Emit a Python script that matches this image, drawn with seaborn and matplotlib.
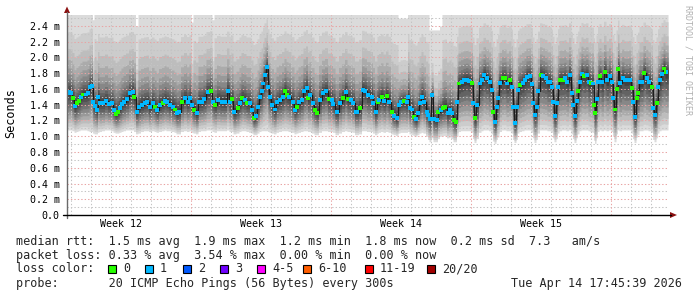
import numpy as np
import matplotlib
matplotlib.use("Agg")
import matplotlib.pyplot as plt
import matplotlib.transforms as mtransforms
from matplotlib.patches import Polygon, Rectangle
from matplotlib.lines import Line2D
import seaborn as sns

# ---------------- data ----------------
# time in graph steps of 72 minutes (20 steps = 1 day) from the left edge
time_steps = [
    0, 2, 4, 6, 8, 10, 12, 14, 16, 19,
    21, 23, 25, 26, 28, 30, 31, 33, 36, 39,
    42, 45, 47, 49, 51, 53, 55, 57, 60, 63,
    66, 67, 70, 72, 75, 78, 80, 83, 86, 88,
    90, 93, 96, 98, 100, 103, 106, 108, 110, 112,
    115, 118, 121, 123, 125, 127, 130, 132, 135, 137,
    141, 144, 146, 148, 151, 155, 158, 161, 163, 165,
    167, 171, 173, 175, 178, 180, 183, 185, 187, 189,
    191, 193, 195, 196, 198, 200, 201, 203, 205, 208,
    210, 213, 216, 218, 220, 222, 226, 228, 230, 232,
    235, 237, 240, 241, 243, 246, 248, 250, 253, 256,
    259, 262, 265, 266, 270, 273, 276, 279, 281, 284,
    286, 289, 290, 293, 296, 298, 301, 305, 306, 309,
    311, 312, 315, 317, 320, 322, 325, 327, 330, 332,
    334, 337, 340, 341, 343, 345, 347, 349, 351, 353,
    355, 357, 360, 361, 363, 365, 367, 370, 371, 374,
    376, 378, 381, 383, 385, 387, 389, 390, 392, 395,
    397, 400, 402, 405, 406, 408, 410, 413, 415, 417,
    420, 423, 425, 426, 428, 430, 431, 433, 436, 438,
    440, 443, 445, 446, 448, 450, 451, 453, 456, 458,
    460, 463, 465, 466, 468, 470, 471, 474, 476, 479,
    481, 483, 485, 486, 488, 490, 491, 493, 496, 498,
    500, 503, 505, 506, 508, 510, 511, 513, 515, 517,
    520, 522, 524, 526, 527, 528, 530, 531, 533, 535,
    538, 540, 543, 545, 546, 548, 550, 551, 553, 556,
    558, 560, 563, 565, 566, 568, 570, 571, 573, 575,
    577, 580, 582, 585, 586, 588, 590, 591, 593, 595,
    597, 599, 601,
]

# median round trip time (milliseconds)
median_rtt = [
    1.55, 1.56, 1.55, 1.48, 1.38, 1.42, 1.45, 1.50, 1.53, 1.53,
    1.55, 1.63, 1.64, 1.44, 1.38, 1.33, 1.50, 1.42, 1.42, 1.45,
    1.41, 1.42, 1.33, 1.28, 1.31, 1.36, 1.41, 1.44, 1.47, 1.545,
    1.56, 1.50, 1.31, 1.37, 1.40, 1.42, 1.43, 1.37, 1.42, 1.37,
    1.33, 1.40, 1.42, 1.45, 1.43, 1.40, 1.375, 1.34, 1.29, 1.31,
    1.43, 1.48, 1.43, 1.48, 1.40, 1.333, 1.29, 1.44, 1.44, 1.47,
    1.56, 1.58, 1.44, 1.40, 1.46, 1.44, 1.44, 1.57, 1.44, 1.47,
    1.31, 1.355, 1.42, 1.48, 1.46, 1.42, 1.42, 1.333, 1.23, 1.26,
    1.375, 1.50, 1.57, 1.67, 1.78, 1.88, 1.63, 1.50, 1.40, 1.34,
    1.43, 1.46, 1.50, 1.575, 1.52, 1.50, 1.43, 1.333, 1.375, 1.43,
    1.46, 1.57, 1.61, 1.49, 1.52, 1.42, 1.333, 1.30, 1.46, 1.545,
    1.575, 1.47, 1.46, 1.41, 1.31, 1.42, 1.48, 1.56, 1.47, 1.46,
    1.42, 1.31, 1.31, 1.355, 1.59, 1.57, 1.52, 1.50, 1.42, 1.31,
    1.44, 1.46, 1.50, 1.45, 1.51, 1.44, 1.31, 1.257, 1.23, 1.40,
    1.44, 1.45, 1.43, 1.50, 1.355, 1.34, 1.25, 1.215, 1.29, 1.42,
    1.50, 1.43, 1.31, 1.27, 1.215, 1.52, 1.215, 1.206, 1.31, 1.33,
    1.355, 1.37, 1.29, 1.33, 1.29, 1.206, 1.185, 1.44, 1.67, 1.69,
    1.71, 1.72, 1.70, 1.68, 1.42, 1.23, 1.40, 1.67, 1.71, 1.78,
    1.74, 1.69, 1.59, 1.31, 1.185, 1.375, 1.48, 1.68, 1.735, 1.74,
    1.67, 1.71, 1.62, 1.375, 1.17, 1.375, 1.59, 1.65, 1.68, 1.71,
    1.756, 1.76, 1.66, 1.42, 1.27, 1.375, 1.57, 1.78, 1.76, 1.74,
    1.69, 1.69, 1.62, 1.44, 1.257, 1.42, 1.63, 1.72, 1.72, 1.735,
    1.69, 1.78, 1.545, 1.40, 1.257, 1.45, 1.57, 1.69, 1.79, 1.76,
    1.78, 1.69, 1.68, 1.67, 1.40, 1.30, 1.47, 1.69, 1.76, 1.69,
    1.82, 1.71, 1.76, 1.69, 1.48, 1.34, 1.60, 1.85, 1.68, 1.74,
    1.71, 1.71, 1.72, 1.61, 1.43, 1.25, 1.48, 1.545, 1.69, 1.69,
    1.80, 1.735, 1.69, 1.63, 1.355, 1.27, 1.42, 1.63, 1.71, 1.79,
    1.86, 1.81, 1.81,
]

# lost pings per sample (drives the median colour)
lost_pings = [
    1, 1, 1, 0, 1, 0, 0, 1, 0, 1,
    1, 1, 1, 1, 1, 1, 1, 1, 1, 1,
    1, 1, 1, 0, 0, 1, 1, 1, 1, 1,
    1, 0, 1, 1, 1, 1, 1, 1, 1, 0,
    1, 1, 0, 1, 1, 1, 1, 0, 1, 1,
    0, 1, 1, 1, 1, 0, 1, 1, 1, 1,
    1, 0, 1, 0, 1, 1, 1, 1, 1, 0,
    1, 0, 1, 0, 1, 0, 1, 1, 0, 1,
    1, 1, 1, 1, 1, 1, 1, 1, 1, 1,
    1, 1, 1, 0, 0, 1, 1, 1, 0, 1,
    1, 1, 1, 0, 1, 1, 0, 0, 1, 1,
    1, 0, 1, 1, 1, 1, 0, 1, 0, 1,
    1, 1, 1, 0, 1, 1, 1, 1, 1, 1,
    0, 1, 0, 1, 0, 1, 0, 1, 1, 1,
    1, 0, 1, 1, 1, 1, 0, 1, 1, 1,
    1, 1, 1, 1, 1, 1, 1, 1, 0, 1,
    0, 0, 1, 1, 1, 0, 0, 1, 0, 1,
    1, 1, 1, 0, 1, 0, 1, 1, 1, 1,
    1, 1, 1, 0, 1, 1, 1, 1, 0, 0,
    1, 0, 1, 1, 1, 1, 1, 0, 1, 1,
    1, 1, 1, 1, 1, 1, 1, 0, 1, 1,
    1, 1, 1, 1, 1, 1, 1, 0, 0, 1,
    1, 1, 1, 1, 1, 1, 0, 1, 1, 0,
    1, 1, 0, 1, 0, 0, 1, 1, 0, 1,
    0, 1, 1, 1, 1, 0, 0, 0, 1, 1,
    1, 1, 1, 0, 1, 1, 0, 0, 1, 1,
    0, 1, 1, 0, 1, 1, 0, 1, 1, 1,
    0, 0, 1,
]

# fastest ping per sample (lower edge of the smoke)
smoke_min = [
    1.08, 1.08, 1.08, 1.07, 1.05, 1.06, 1.07, 1.08, 1.08, 1.08,
    1.07, 1.06, 1.06, 1.04, 1.03, 1.03, 1.05, 1.06, 1.07, 1.08,
    1.08, 1.07, 1.05, 1.04, 1.04, 1.05, 1.06, 1.07, 1.08, 1.08,
    1.08, 1.06, 1.03, 1.04, 1.06, 1.07, 1.07, 1.06, 1.07, 1.06,
    1.05, 1.06, 1.07, 1.08, 1.07, 1.07, 1.06, 1.05, 1.03, 1.03,
    1.06, 1.07, 1.06, 1.07, 1.05, 1.04, 1.03, 1.06, 1.07, 1.07,
    1.08, 1.08, 1.06, 1.05, 1.07, 1.07, 1.07, 1.08, 1.06, 1.06,
    1.03, 1.04, 1.06, 1.07, 1.07, 1.06, 1.05, 1.04, 1.02, 1.02,
    1.04, 1.06, 1.07, 1.07, 1.07, 1.07, 1.06, 1.05, 1.04, 1.03,
    1.05, 1.06, 1.07, 1.07, 1.07, 1.06, 1.05, 1.03, 1.04, 1.05,
    1.06, 1.07, 1.07, 1.06, 1.06, 1.04, 1.02, 1.02, 1.05, 1.07,
    1.07, 1.06, 1.06, 1.05, 1.02, 1.04, 1.06, 1.07, 1.06, 1.06,
    1.05, 1.02, 1.02, 1.03, 1.07, 1.07, 1.06, 1.06, 1.04, 1.02,
    1.04, 1.05, 1.06, 1.05, 1.06, 1.05, 1.03, 1.02, 1.01, 1.04,
    1.05, 1.05, 1.05, 1.06, 1.03, 1.02, 1.01, 1.00, 1.02, 1.04,
    1.05, 1.04, 1.00, 0.96, 0.93, 0.98, 0.93, 0.93, 0.97, 1.00,
    1.01, 1.01, 0.98, 0.99, 0.97, 0.93, 0.93, 1.00, 1.06, 1.07,
    1.07, 1.07, 1.07, 1.05, 0.97, 0.92, 0.97, 1.05, 1.07, 1.08,
    1.08, 1.07, 1.03, 0.94, 0.91, 0.96, 0.99, 1.06, 1.08, 1.08,
    1.07, 1.07, 1.04, 0.96, 0.92, 0.96, 1.04, 1.06, 1.07, 1.08,
    1.08, 1.08, 1.05, 0.98, 0.92, 0.96, 1.04, 1.08, 1.08, 1.08,
    1.07, 1.07, 1.05, 0.98, 0.93, 0.97, 1.04, 1.07, 1.08, 1.08,
    1.07, 1.08, 1.03, 0.97, 0.92, 0.98, 1.03, 1.07, 1.08, 1.08,
    1.08, 1.07, 1.06, 1.05, 0.95, 0.91, 0.98, 1.06, 1.08, 1.07,
    1.08, 1.07, 1.08, 1.06, 1.00, 0.93, 1.03, 1.08, 1.07, 1.08,
    1.08, 1.08, 1.08, 1.04, 0.97, 0.92, 0.99, 1.02, 1.07, 1.07,
    1.08, 1.08, 1.07, 1.05, 0.96, 0.93, 0.98, 1.04, 1.07, 1.08,
    1.08, 1.08, 1.08,
]

# slowest ping per sample (upper edge of the smoke, mostly above the graph)
smoke_max = [
    3.1, 3.1, 3.1, 3.1, 3.1, 3.1, 3.1, 3.1, 3.1, 3.1,
    3.1, 3.1, 3.1, 2.48, 3.1, 3.1, 3.1, 3.1, 3.1, 3.1,
    3.1, 3.1, 3.1, 3.1, 3.1, 3.1, 3.1, 3.1, 3.1, 3.1,
    3.1, 3.1, 2.4, 3.1, 3.1, 3.1, 3.1, 3.1, 3.1, 3.1,
    3.1, 3.1, 3.1, 3.1, 3.1, 3.1, 3.1, 3.1, 3.1, 3.1,
    3.1, 3.1, 3.1, 3.1, 2.45, 3.1, 3.1, 3.1, 3.1, 3.1,
    3.1, 3.1, 2.48, 3.1, 3.1, 3.1, 3.1, 3.1, 3.1, 3.1,
    3.1, 3.1, 3.1, 3.1, 3.1, 3.1, 3.1, 3.1, 3.1, 3.1,
    3.1, 3.1, 3.1, 3.1, 3.1, 3.1, 3.1, 3.1, 3.1, 3.1,
    3.1, 3.1, 3.1, 3.1, 3.1, 3.1, 3.1, 3.1, 3.1, 3.1,
    3.1, 3.1, 3.1, 3.1, 3.1, 3.1, 3.1, 3.1, 3.1, 3.1,
    3.1, 3.1, 3.1, 3.1, 3.1, 3.1, 3.1, 3.1, 3.1, 3.1,
    3.1, 3.1, 3.1, 3.1, 3.1, 3.1, 3.1, 3.1, 3.1, 3.1,
    3.1, 3.1, 3.1, 3.1, 3.1, 3.1, 3.1, 3.1, 3.1, 2.5,
    2.5, 2.5, 2.5, 3.1, 3.1, 3.1, 3.1, 3.1, 3.1, 3.1,
    3.1, 3.1, 3.1, 3.1, 2.35, 2.35, 2.35, 2.35, 2.35, 2.4,
    3.1, 3.1, 3.1, 3.1, 3.1, 3.1, 3.1, 3.1, 3.1, 3.1,
    3.1, 3.1, 3.1, 3.1, 3.1, 3.1, 3.1, 3.1, 3.1, 3.1,
    3.1, 3.1, 3.1, 3.1, 3.1, 3.1, 3.1, 3.1, 3.1, 3.1,
    3.1, 3.1, 3.1, 3.1, 3.1, 3.1, 3.1, 3.1, 3.1, 3.1,
    3.1, 3.1, 3.1, 3.1, 3.1, 3.1, 3.1, 3.1, 3.1, 3.1,
    3.1, 3.1, 3.1, 3.1, 3.1, 3.1, 3.1, 3.1, 3.1, 3.1,
    3.1, 3.1, 3.1, 3.1, 3.1, 3.1, 3.1, 3.1, 3.1, 3.1,
    3.1, 3.1, 3.1, 3.1, 3.1, 3.1, 3.1, 3.1, 3.1, 3.1,
    3.1, 3.1, 3.1, 3.1, 3.1, 3.1, 3.1, 3.1, 3.1, 3.1,
    3.1, 3.1, 3.1, 3.1, 3.1, 3.1, 3.1, 3.1, 3.1, 3.1,
    3.1, 3.1, 3.1, 3.1, 3.1, 3.1, 3.1, 3.1, 3.1, 3.1,
    3.1, 3.1, 3.1,
]

week_labels = ["Week 12", "Week 13", "Week 14", "Week 15"]
week_label_days = [2.7, 9.7, 16.7, 23.7]
week_line_days = [6.2, 13.2, 20.2, 27.2]
day_line_days = [0.2 + k for k in range(30)]

legend_rtt = "median rtt:  1.5 ms avg  1.9 ms max  1.2 ms min  1.8 ms now  0.2 ms sd  7.3   am/s"
legend_loss = "packet loss: 0.33 % avg  3.54 % max  0.00 % min  0.00 % now"
loss_color_labels = ["0", "1", "2", "3", "4-5", "6-10", "11-19", "20/20"]
loss_color_values = ["#26ff00", "#00b8ff", "#0059ff", "#7000ff", "#ff00ff",
                     "#ff5e00", "#ff0000", "#a10000"]
probe_text = "probe:       20 ICMP Echo Pings (56 Bytes) every 300s"
stamp_text = "Tue Apr 14 17:45:39 2026"
watermark = "RRDTOOL / TOBI OETIKER"

# ---------------- drawing ----------------
sns.set_theme(style="white")
plt.rcParams["font.family"] = ["DejaVu Sans Mono", "DejaVu Sans"]

W, H = 697, 297
fig = plt.figure(figsize=(W / 100, H / 100), dpi=100)
fig.patch.set_facecolor("white")
ax = fig.add_axes([67 / W, (H - 215) / H, (668 - 67) / W, (215 - 15) / H])
ax.set_facecolor("white")

days = np.array(time_steps) / 20.0
med = np.array(median_rtt)
lo = np.array(smoke_min)
hi = np.array(smoke_max)

# smoke: nested bands from the outer pings (light) to the inner pings (dark)
low_frac = [1.0, 0.90, 0.80, 0.70, 0.60, 0.50, 0.40, 0.30, 0.20, 0.10]
up_frac = [1.0, 0.50, 0.36, 0.27, 0.20, 0.15, 0.11, 0.08, 0.055, 0.03]
grays = [0.86, 0.80, 0.74, 0.67, 0.60, 0.53, 0.46, 0.39, 0.32, 0.25]
for lf, uf, g in zip(low_frac, up_frac, grays):
    ax.fill_between(days, med - lf * (med - lo), med + uf * (hi - med),
                    step="mid", color=(g, g, g), lw=0, zorder=1)

# grid
minor_c, major_c = "#c4c4c4", "#e9a3a3"
dots = (0, (1.3, 2.0))
for i in range(1, 26):
    y = i / 10
    ax.axhline(y, color=major_c if i % 2 == 0 else minor_c, lw=0.75,
               ls=dots, zorder=2)
for d in day_line_days:
    if any(abs(d - w) < 1e-6 for w in week_line_days):
        continue
    ax.axvline(d, color=minor_c, lw=0.75, ls=dots, zorder=2)
for d in week_line_days:
    ax.axvline(d, color=major_c, lw=0.75, ls=dots, zorder=2)

# median line coloured by loss
sns.lineplot(x=days, y=med, ax=ax, color="#1c1c1c", lw=0.85,
             drawstyle="steps-mid", zorder=4, legend=False)
sns.scatterplot(x=days, y=med, hue=lost_pings, ax=ax,
                palette={0: loss_color_values[0], 1: loss_color_values[1]},
                marker="s", s=8, linewidth=0, zorder=5, legend=False)

ax.set_xlim(0, 601 / 20)
ax.set_ylim(0, 200 / 78.75)

for s in ax.spines.values():
    s.set_visible(False)

yt = [round(0.2 * k, 1) for k in range(13)]
ax.set_yticks(yt)
ax.set_yticklabels(["0.0"] + [f"{v:.1f} m" for v in yt[1:]])
ax.tick_params(axis="y", length=0, pad=5.2, labelsize=7.2, colors="black")
ax.set_xticks([])
ax.set_xlabel("")
ax.set_ylabel("")
ax.grid(False)

trans = mtransforms.blended_transform_factory(ax.transData, ax.transAxes)
for d, lab in zip(week_label_days, week_labels):
    ax.text(d, -0.045, lab, transform=trans, ha="center", va="center",
            fontsize=7.2, color="black")

# axes lines and arrows (in figure pixel positions)
def fp(x, y):
    return (x / W, 1 - y / H)

fig.add_artist(Line2D([67 / W, 67 / W], [1 - 218 / H, 1 - 12 / H],
                      transform=fig.transFigure, color="#6a6a6a", lw=1.0))
fig.add_artist(Line2D([63 / W, 671 / W], [1 - 215 / H, 1 - 215 / H],
                      transform=fig.transFigure, color="black", lw=1.0))
arrow_c = "#8b1010"
fig.add_artist(Polygon([fp(67, 6.5), fp(64, 13), fp(70, 13)], closed=True,
                       transform=fig.transFigure, color=arrow_c, lw=0))
fig.add_artist(Polygon([fp(677, 215), fp(670, 212), fp(670, 218)], closed=True,
                       transform=fig.transFigure, color=arrow_c, lw=0))

# y label and watermark
fig.text(11 / W, 1 - 113 / H, "Seconds", rotation=90, ha="center", va="center",
         fontsize=8.5, color="black")
fig.text(688 / W, 1 - 5 / H, watermark, rotation=270, ha="center", va="top",
         fontsize=6.0, color="#b0b0b0")

# legend rows
fs = 8.5
fig.text(16 / W, 1 - 241 / H, legend_rtt, ha="left", va="center", fontsize=fs)
fig.text(16 / W, 1 - 255 / H, legend_loss, ha="left", va="center", fontsize=fs)
fig.text(16 / W, 1 - 269 / H, "loss color:", ha="left", va="center", fontsize=fs)
box_x = [108, 145, 183, 220, 257, 303, 365, 427]
for bx, lab, col in zip(box_x, loss_color_labels, loss_color_values):
    fig.add_artist(Rectangle((bx / W, 1 - 273 / H), 8 / W, 8 / H,
                             transform=fig.transFigure, facecolor=col,
                             edgecolor="black", lw=0.8))
    fig.text((bx + 15) / W, 1 - 269 / H, lab, ha="left", va="center", fontsize=fs)
fig.text(16 / W, 1 - 283 / H, probe_text, ha="left", va="center", fontsize=fs)
fig.text(682 / W, 1 - 283 / H, stamp_text, ha="right", va="center", fontsize=fs)

fig.savefig("out.png", dpi=100, facecolor="white")
